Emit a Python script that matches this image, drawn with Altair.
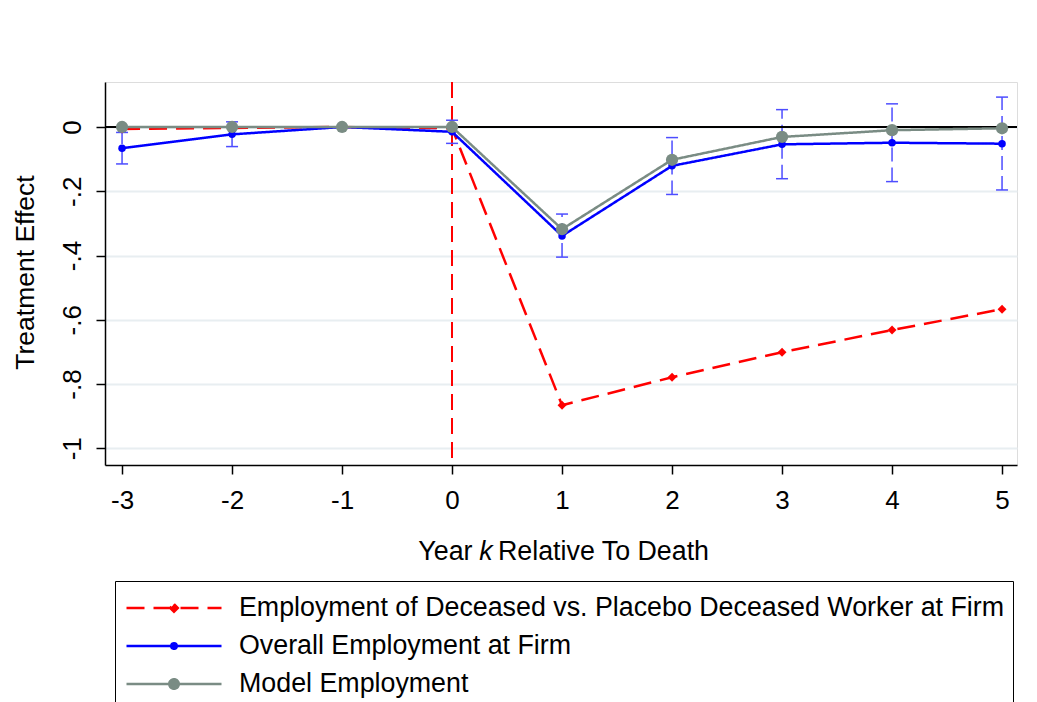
import altair as alt
import pandas as pd

FONT = "Liberation Sans"

# ---------------- data ----------------
years = [-3, -2, -1, 0, 1, 2, 3, 4, 5]
series_names = [
    "Employment of Deceased vs. Placebo Deceased Worker at Firm",
    "Overall Employment at Firm",
    "Model Employment",
]
deceased = [-0.006, -0.003, 0.0, -0.004, -0.866, -0.779, -0.701, -0.632, -0.567]
overall = [-0.066, -0.023, 0.0, -0.015, -0.339, -0.121, -0.054, -0.049, -0.052]
model = [0.0, 0.0, 0.0, 0.0, -0.318, -0.102, -0.031, -0.010, -0.004]

ci_years = [-3, -2, 0, 1, 2, 3, 4, 5]
ci_low = [-0.115, -0.061, -0.051, -0.405, -0.210, -0.161, -0.170, -0.196]
ci_high = [-0.017, 0.016, 0.021, -0.271, -0.033, 0.054, 0.072, 0.093]

y_ticks = [0, -0.2, -0.4, -0.6, -0.8, -1]

# ---------------- styles ----------------
colors = ["#ff0000", "#0000ff", "#7a8c84"]
dashes = [[18, 9], [1, 0], [1, 0]]
ci_color = "#4d4dff"

rows = []
for name, vals in zip(series_names, [deceased, overall, model]):
    for k, v in zip(years, vals):
        rows.append({"series": name, "k": k, "v": v})
df = pd.DataFrame(rows)
ci_df = pd.DataFrame({"k": ci_years, "lo": ci_low, "hi": ci_high})

x_scale = alt.Scale(domain=[-3.155, 5.136], nice=False, zero=False)
y_scale = alt.Scale(domain=[-1.052, 0.14], nice=False, zero=False)

x_axis = alt.Axis(
    values=years, title=None, grid=False, labelExpr="'' + datum.value",
    tickSize=9, tickWidth=1.5, tickColor="black", domainColor="black", domainWidth=1.5,
    labelFont=FONT, labelFontSize=26, labelColor="black", labelPadding=26,
    labelBaseline="middle", labelFlush=False, labelOverlap=False,
)
y_axis = alt.Axis(
    values=y_ticks,
    labelExpr="datum.value == 0 ? '0' : (datum.value <= -0.999 ? '-1' : '-.' + round(-datum.value * 10))",
    labelAngle=270, labelAlign="center", labelBaseline="middle", labelPadding=23.5,
    labelFont=FONT, labelFontSize=26, labelColor="black", labelOverlap=False, labelFlush=False,
    tickSize=9, tickWidth=1.5, tickColor="black", domainColor="black", domainWidth=1.5,
    grid=True, gridColor="#e8eef1", gridWidth=2,
    title="Treatment Effect", titleFont=FONT, titleFontSize=26.5, titleFontWeight="normal",
    titleColor="black", titleAngle=270, titleAlign="center", titleBaseline="alphabetic",
    titleX=-72, titleY=190,
)

line_path = "M-1,0H1"
shape_expr = (
    "datum.value === 'Model Employment' ? "
    f"'{line_path}M-0.1,0A0.1,0.1,0,1,0,0.1,0A0.1,0.1,0,1,0,-0.1,0Z' : "
    "(datum.value === 'Overall Employment at Firm' ? "
    f"'{line_path}M-0.06,0A0.06,0.06,0,1,0,0.06,0A0.06,0.06,0,1,0,-0.06,0Z' : "
    f"'{line_path}M0,-0.08L0.08,0L0,0.08L-0.08,0Z')"
)

legend = alt.Legend(
    title=None, orient="none", legendX=10, legendY=499, direction="vertical",
    strokeColor="black", fillColor="white", padding=8,
    labelFont=FONT, labelFontSize=26.8, labelColor="black", labelLimit=1000, labelOffset=16,
    symbolSize=9025, symbolStrokeWidth=2.5, symbolOffset=2, clipHeight=38, rowPadding=0,
    symbolType=alt.ExprRef(expr=shape_expr),
    symbolFillColor=alt.ExprRef(expr="scale('color', datum.value)"),
)

base_x = alt.X("k:Q", scale=x_scale, axis=x_axis)

zero_line = alt.Chart(df).mark_rule(color="black", strokeWidth=1.5).encode(y=alt.datum(0, scale=y_scale))
vline = alt.Chart(df).mark_rule(color="#ff0000", strokeWidth=1.5, strokeDash=[16, 8]).encode(
    x=alt.datum(0, scale=x_scale)
)

ci_rule = alt.Chart(ci_df).mark_rule(color=ci_color, strokeWidth=1.5, strokeDash=[14, 6]).encode(
    x=alt.X("k:Q", scale=x_scale, axis=x_axis),
    y=alt.Y("lo:Q", scale=y_scale, axis=y_axis),
    y2="hi:Q",
)
cap_lo = alt.Chart(ci_df).mark_tick(orient="horizontal", size=12, thickness=1.5, color=ci_color, opacity=1).encode(
    x=alt.X("k:Q", scale=x_scale), y=alt.Y("lo:Q", scale=y_scale)
)
cap_hi = alt.Chart(ci_df).mark_tick(orient="horizontal", size=12, thickness=1.5, color=ci_color, opacity=1).encode(
    x=alt.X("k:Q", scale=x_scale), y=alt.Y("hi:Q", scale=y_scale)
)

lines = alt.Chart(df).mark_line(strokeWidth=2.5).encode(
    x=base_x,
    y=alt.Y("v:Q", scale=y_scale, axis=y_axis),
    color=alt.Color("series:N", scale=alt.Scale(domain=series_names, range=colors), legend=legend),
    strokeDash=alt.StrokeDash("series:N", scale=alt.Scale(domain=series_names, range=dashes), legend=legend),
)

marker_shapes = ["diamond", "circle", "circle"]
marker_sizes = [80, 56, 150]
point_layers = []
for name, c, sh, sz in zip(series_names, colors, marker_shapes, marker_sizes):
    point_layers.append(
        alt.Chart(df).transform_filter(alt.datum.series == name)
        .mark_point(filled=True, color=c, opacity=1, shape=sh, size=sz)
        .encode(x=alt.X("k:Q", scale=x_scale), y=alt.Y("v:Q", scale=y_scale))
    )

title_df = pd.DataFrame({"t": ["Year", "k", "Relative To Death"]})
t_year = alt.Chart(title_df).transform_filter(alt.datum.t == "Year").mark_text(
    align="right", baseline="alphabetic", font=FONT, fontSize=26.8, color="black"
).encode(text="t:N", x=alt.value(367.5), y=alt.value(478))
t_k = alt.Chart(title_df).transform_filter(alt.datum.t == "k").mark_text(
    align="center", baseline="alphabetic", font=FONT, fontSize=26.8, fontStyle="italic", color="black"
).encode(text="t:N", x=alt.value(381), y=alt.value(478))
t_rest = alt.Chart(title_df).transform_filter(alt.datum.t == "Relative To Death").mark_text(
    align="left", baseline="alphabetic", font=FONT, fontSize=26.8, color="black"
).encode(text="t:N", x=alt.value(393), y=alt.value(478))

chart = alt.layer(
    ci_rule, zero_line, vline, cap_lo, cap_hi, lines, *point_layers, t_year, t_k, t_rest
).properties(
    width=912, height=383,
    autosize=alt.AutoSizeParams(type="none"),
    padding={"left": 97, "top": 74, "right": 4, "bottom": 237},
).configure_view(strokeWidth=0).configure_legend(strokeWidth=1.5).configure(font=FONT)

chart.save("out.html", embed_options={"renderer": "svg", "actions": False})
